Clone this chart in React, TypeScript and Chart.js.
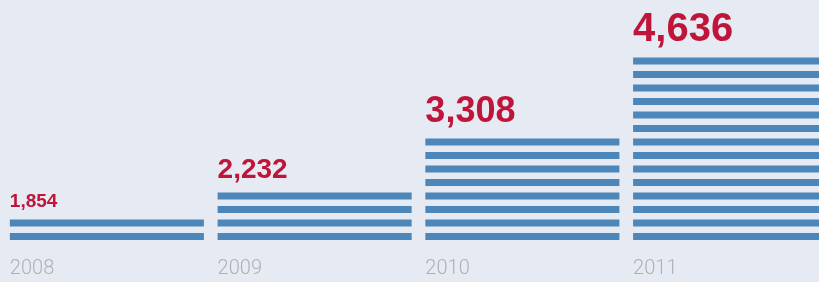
import React, { useEffect, useRef } from "react";
import { Chart, registerables } from "chart.js";

Chart.register(...registerables);

// ---- data ----
const years: string[] = ["2008", "2009", "2010", "2011"];
const values: number[] = [1854, 2232, 3308, 4636];
// bar height in stripe units, as shown in the picture
const stripeCounts: number[] = [2, 4, 8, 14];

// ---- style ----
const BG = "#e6eaf2";
const BLUE = "#4d86b9";
const RED = "#bf153b";
const GRAY = "#adb0b6";
const labelFontSizes = [19, 28, 36, 40];
const STRIPE_FRACTION = 7 / 13.5;

export default function App() {
  const ref = useRef<HTMLCanvasElement>(null);

  useEffect(() => {
    if (!ref.current) return;

    const stripesPlugin = {
      id: "stripes",
      afterDatasetsDraw(chart: any) {
        const ctx = chart.ctx as CanvasRenderingContext2D;
        const yScale = chart.scales.y;
        const meta = chart.getDatasetMeta(0);
        ctx.save();
        meta.data.forEach((bar: any, i: number) => {
          const { x, width } = bar.getProps(["x", "width"], true);
          const left = x - width / 2;
          const count = chart.data.datasets[0].data[i] as number;
          ctx.fillStyle = BLUE;
          for (let k = 0; k < count; k++) {
            const bottom = yScale.getPixelForValue(k);
            const top = yScale.getPixelForValue(k + STRIPE_FRACTION);
            ctx.fillRect(left, top, width, bottom - top);
          }
          // value label
          const size = labelFontSizes[i];
          const stripeTop = yScale.getPixelForValue(count - 1 + STRIPE_FRACTION);
          ctx.fillStyle = RED;
          ctx.font = `bold ${size}px "Liberation Sans", Arial, sans-serif`;
          ctx.textAlign = "left";
          ctx.textBaseline = "alphabetic";
          ctx.fillText(values[i].toLocaleString("en-US"), left, stripeTop - (9 + size * 0.2));
          // year label
          ctx.fillStyle = GRAY;
          ctx.font = `300 20px Roboto, "Liberation Sans", sans-serif`;
          ctx.fillText(years[i], left, chart.chartArea.bottom + 34);
        });
        ctx.restore();
      },
    };

    const chart = new Chart(ref.current, {
      type: "bar",
      data: {
        labels: years,
        datasets: [
          {
            data: stripeCounts,
            backgroundColor: "rgba(0,0,0,0)",
            borderWidth: 0,
            barPercentage: 1,
            categoryPercentage: 0.934,
          },
        ],
      },
      options: {
        responsive: false,
        animation: false,
        devicePixelRatio: 1,
        layout: { padding: { left: 3, right: 0, top: 0, bottom: 42 } },
        plugins: {
          legend: { display: false },
          tooltip: { enabled: false },
        },
        scales: {
          x: { display: false, offset: true },
          y: { display: false, min: 0, max: 240 / 13.5 },
        },
      },
      plugins: [stripesPlugin],
    });

    return () => chart.destroy();
  }, []);

  return (
    <div
      style={{
        position: "fixed",
        left: 0,
        top: 0,
        width: 819,
        height: 282,
        overflow: "hidden",
        background: BG,
      }}
    >
      <canvas ref={ref} width={834} height={282} style={{ width: 834, height: 282, display: "block" }} />
    </div>
  );
}
